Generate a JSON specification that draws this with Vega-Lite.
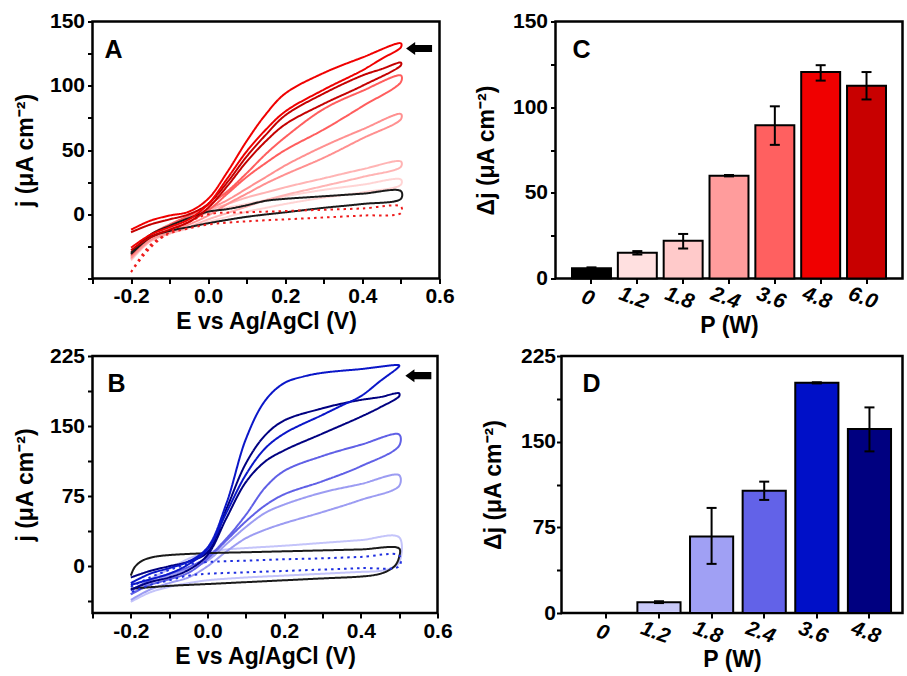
{
  "$schema": "https://vega.github.io/schema/vega-lite/v6.json",
  "padding": {"left": 12.5, "top": 8.5, "right": 0, "bottom": 0},
  "background": "white",
  "config": {
    "font": "Liberation Sans",
    "view": {"stroke": "black", "strokeWidth": 2.5},
    "axis": {
      "domain": false, "grid": false, "ticks": true, "tickColor": "black", "tickWidth": 2, "tickSize": 5,
      "labelFont": "Liberation Sans", "labelFontSize": 21, "labelFontWeight": "bold", "labelColor": "black",
      "labelFlush": false, "labelOverlap": false, "labelPadding": 2,
      "titleFont": "Liberation Sans", "titleFontSize": 23, "titleFontWeight": "bold", "titleColor": "black"
    },
    "title": {"font": "Liberation Sans", "fontSize": 25, "fontWeight": "bold", "color": "black", "anchor": "start", "frame": "group", "offset": -52, "baseline": "alphabetic"}
  },
  "datasets": {
    "cvA": [
      {"s":"1.2","o":0,"E":-0.2,"j":-35},{"s":"1.2","o":1,"E":-0.15,"j":-20},{"s":"1.2","o":2,"E":-0.1,"j":-11},{"s":"1.2","o":3,"E":-0.05,"j":-4},{"s":"1.2","o":4,"E":0,"j":1},{"s":"1.2","o":5,"E":0.05,"j":5},{"s":"1.2","o":6,"E":0.1,"j":8},{"s":"1.2","o":7,"E":0.15,"j":11},{"s":"1.2","o":8,"E":0.2,"j":14},{"s":"1.2","o":9,"E":0.3,"j":19},{"s":"1.2","o":10,"E":0.4,"j":23},{"s":"1.2","o":11,"E":0.5,"j":27},
      {"s":"1.2","o":12,"E":0.5,"j":23},{"s":"1.2","o":13,"E":0.4,"j":17},{"s":"1.2","o":14,"E":0.3,"j":13},{"s":"1.2","o":15,"E":0.2,"j":8},{"s":"1.2","o":16,"E":0.15,"j":5},{"s":"1.2","o":17,"E":0.1,"j":2},{"s":"1.2","o":18,"E":0.05,"j":-2},{"s":"1.2","o":19,"E":0,"j":-6},{"s":"1.2","o":20,"E":-0.05,"j":-11},{"s":"1.2","o":21,"E":-0.1,"j":-15},{"s":"1.2","o":22,"E":-0.15,"j":-21},{"s":"1.2","o":23,"E":-0.2,"j":-36},
      {"s":"1.8","o":0,"E":-0.2,"j":-33},{"s":"1.8","o":1,"E":-0.15,"j":-19},{"s":"1.8","o":2,"E":-0.1,"j":-10},{"s":"1.8","o":3,"E":-0.05,"j":-3},{"s":"1.8","o":4,"E":0,"j":3},{"s":"1.8","o":5,"E":0.05,"j":8},{"s":"1.8","o":6,"E":0.1,"j":13},{"s":"1.8","o":7,"E":0.15,"j":17},{"s":"1.8","o":8,"E":0.2,"j":21},{"s":"1.8","o":9,"E":0.3,"j":28},{"s":"1.8","o":10,"E":0.4,"j":35},{"s":"1.8","o":11,"E":0.5,"j":41},
      {"s":"1.8","o":12,"E":0.5,"j":37},{"s":"1.8","o":13,"E":0.4,"j":29},{"s":"1.8","o":14,"E":0.3,"j":22},{"s":"1.8","o":15,"E":0.2,"j":15},{"s":"1.8","o":16,"E":0.15,"j":11},{"s":"1.8","o":17,"E":0.1,"j":6},{"s":"1.8","o":18,"E":0.05,"j":1},{"s":"1.8","o":19,"E":0,"j":-4},{"s":"1.8","o":20,"E":-0.05,"j":-10},{"s":"1.8","o":21,"E":-0.1,"j":-15},{"s":"1.8","o":22,"E":-0.15,"j":-21},{"s":"1.8","o":23,"E":-0.2,"j":-35},
      {"s":"2.4","o":0,"E":-0.2,"j":-33},{"s":"2.4","o":1,"E":-0.15,"j":-18},{"s":"2.4","o":2,"E":-0.1,"j":-9},{"s":"2.4","o":3,"E":-0.05,"j":-2},{"s":"2.4","o":4,"E":0,"j":4},{"s":"2.4","o":5,"E":0.05,"j":11},{"s":"2.4","o":6,"E":0.1,"j":20},{"s":"2.4","o":7,"E":0.15,"j":29},{"s":"2.4","o":8,"E":0.2,"j":38},{"s":"2.4","o":9,"E":0.3,"j":53},{"s":"2.4","o":10,"E":0.4,"j":66},{"s":"2.4","o":11,"E":0.5,"j":78},
      {"s":"2.4","o":12,"E":0.5,"j":74},{"s":"2.4","o":13,"E":0.4,"j":59},{"s":"2.4","o":14,"E":0.3,"j":44},{"s":"2.4","o":15,"E":0.2,"j":31},{"s":"2.4","o":16,"E":0.15,"j":24},{"s":"2.4","o":17,"E":0.1,"j":16},{"s":"2.4","o":18,"E":0.05,"j":8},{"s":"2.4","o":19,"E":0,"j":-1},{"s":"2.4","o":20,"E":-0.05,"j":-8},{"s":"2.4","o":21,"E":-0.1,"j":-14},{"s":"2.4","o":22,"E":-0.15,"j":-20},{"s":"2.4","o":23,"E":-0.2,"j":-34},
      {"s":"3.6","o":0,"E":-0.2,"j":-30},{"s":"3.6","o":1,"E":-0.15,"j":-16},{"s":"3.6","o":2,"E":-0.1,"j":-8},{"s":"3.6","o":3,"E":-0.05,"j":-1},{"s":"3.6","o":4,"E":0,"j":7},{"s":"3.6","o":5,"E":0.05,"j":18},{"s":"3.6","o":6,"E":0.1,"j":32},{"s":"3.6","o":7,"E":0.15,"j":47},{"s":"3.6","o":8,"E":0.2,"j":60},{"s":"3.6","o":9,"E":0.3,"j":82},{"s":"3.6","o":10,"E":0.4,"j":96},{"s":"3.6","o":11,"E":0.5,"j":108},
      {"s":"3.6","o":12,"E":0.5,"j":103},{"s":"3.6","o":13,"E":0.4,"j":84},{"s":"3.6","o":14,"E":0.3,"j":66},{"s":"3.6","o":15,"E":0.2,"j":50},{"s":"3.6","o":16,"E":0.15,"j":40},{"s":"3.6","o":17,"E":0.1,"j":29},{"s":"3.6","o":18,"E":0.05,"j":16},{"s":"3.6","o":19,"E":0,"j":3},{"s":"3.6","o":20,"E":-0.05,"j":-6},{"s":"3.6","o":21,"E":-0.1,"j":-12},{"s":"3.6","o":22,"E":-0.15,"j":-18},{"s":"3.6","o":23,"E":-0.2,"j":-32},
      {"s":"0","o":0,"E":-0.2,"j":-30},{"s":"0","o":1,"E":-0.15,"j":-16},{"s":"0","o":2,"E":-0.1,"j":-9},{"s":"0","o":3,"E":-0.05,"j":-3},{"s":"0","o":4,"E":0,"j":2},{"s":"0","o":5,"E":0.05,"j":4},{"s":"0","o":6,"E":0.1,"j":7},{"s":"0","o":7,"E":0.15,"j":10.5},{"s":"0","o":8,"E":0.2,"j":12},{"s":"0","o":9,"E":0.3,"j":14},{"s":"0","o":10,"E":0.4,"j":16},{"s":"0","o":11,"E":0.5,"j":18},
      {"s":"0","o":12,"E":0.5,"j":12},{"s":"0","o":13,"E":0.4,"j":8},{"s":"0","o":14,"E":0.3,"j":5},{"s":"0","o":15,"E":0.2,"j":1.5},{"s":"0","o":16,"E":0.1,"j":-2},{"s":"0","o":17,"E":0,"j":-7},{"s":"0","o":18,"E":-0.05,"j":-10},{"s":"0","o":19,"E":-0.1,"j":-13},{"s":"0","o":20,"E":-0.15,"j":-18},{"s":"0","o":21,"E":-0.2,"j":-31},
      {"s":"dark","o":0,"E":-0.2,"j":-45},{"s":"dark","o":1,"E":-0.15,"j":-26},{"s":"dark","o":2,"E":-0.1,"j":-14},{"s":"dark","o":3,"E":-0.05,"j":-6},{"s":"dark","o":4,"E":0,"j":0},{"s":"dark","o":5,"E":0.1,"j":1.5},{"s":"dark","o":6,"E":0.2,"j":2.5},{"s":"dark","o":7,"E":0.3,"j":3.5},{"s":"dark","o":8,"E":0.4,"j":4.5},{"s":"dark","o":9,"E":0.5,"j":6},
      {"s":"dark","o":10,"E":0.5,"j":1},{"s":"dark","o":11,"E":0.4,"j":-1},{"s":"dark","o":12,"E":0.3,"j":-2.5},{"s":"dark","o":13,"E":0.2,"j":-4},{"s":"dark","o":14,"E":0.1,"j":-5.5},{"s":"dark","o":15,"E":0,"j":-8},{"s":"dark","o":16,"E":-0.05,"j":-11},{"s":"dark","o":17,"E":-0.1,"j":-15},{"s":"dark","o":18,"E":-0.15,"j":-24},{"s":"dark","o":19,"E":-0.2,"j":-45},
      {"s":"6.0","o":0,"E":-0.2,"j":-14},{"s":"6.0","o":1,"E":-0.15,"j":-8},{"s":"6.0","o":2,"E":-0.1,"j":-4},{"s":"6.0","o":3,"E":-0.05,"j":0},{"s":"6.0","o":4,"E":0,"j":8},{"s":"6.0","o":5,"E":0.05,"j":25},{"s":"6.0","o":6,"E":0.1,"j":45},{"s":"6.0","o":7,"E":0.15,"j":62},{"s":"6.0","o":8,"E":0.2,"j":77},{"s":"6.0","o":9,"E":0.3,"j":94},{"s":"6.0","o":10,"E":0.4,"j":108},{"s":"6.0","o":11,"E":0.45,"j":113},{"s":"6.0","o":12,"E":0.5,"j":118},
      {"s":"6.0","o":13,"E":0.5,"j":116},{"s":"6.0","o":14,"E":0.4,"j":100},{"s":"6.0","o":15,"E":0.3,"j":86},{"s":"6.0","o":16,"E":0.2,"j":70},{"s":"6.0","o":17,"E":0.15,"j":57},{"s":"6.0","o":18,"E":0.1,"j":41},{"s":"6.0","o":19,"E":0.05,"j":22},{"s":"6.0","o":20,"E":0,"j":5},{"s":"6.0","o":21,"E":-0.05,"j":-6},{"s":"6.0","o":22,"E":-0.1,"j":-12},{"s":"6.0","o":23,"E":-0.15,"j":-18},{"s":"6.0","o":24,"E":-0.2,"j":-28},
      {"s":"4.8","o":0,"E":-0.2,"j":-12},{"s":"4.8","o":1,"E":-0.15,"j":-5},{"s":"4.8","o":2,"E":-0.1,"j":-1},{"s":"4.8","o":3,"E":-0.05,"j":2},{"s":"4.8","o":4,"E":0,"j":12},{"s":"4.8","o":5,"E":0.05,"j":33},{"s":"4.8","o":6,"E":0.1,"j":57},{"s":"4.8","o":7,"E":0.15,"j":78},{"s":"4.8","o":8,"E":0.2,"j":94},{"s":"4.8","o":9,"E":0.3,"j":110},{"s":"4.8","o":10,"E":0.4,"j":122},{"s":"4.8","o":11,"E":0.5,"j":133},
      {"s":"4.8","o":12,"E":0.5,"j":130},{"s":"4.8","o":13,"E":0.45,"j":121},{"s":"4.8","o":14,"E":0.4,"j":112},{"s":"4.8","o":15,"E":0.3,"j":97},{"s":"4.8","o":16,"E":0.2,"j":80},{"s":"4.8","o":17,"E":0.15,"j":66},{"s":"4.8","o":18,"E":0.1,"j":49},{"s":"4.8","o":19,"E":0.05,"j":28},{"s":"4.8","o":20,"E":0,"j":8},{"s":"4.8","o":21,"E":-0.05,"j":-4},{"s":"4.8","o":22,"E":-0.1,"j":-10},{"s":"4.8","o":23,"E":-0.15,"j":-16},{"s":"4.8","o":24,"E":-0.2,"j":-26}
    ],
    "cvB": [
      {"s":"1.2","o":0,"E":-0.2,"j":-30},{"s":"1.2","o":1,"E":-0.15,"j":-14},{"s":"1.2","o":2,"E":-0.1,"j":-3},{"s":"1.2","o":3,"E":-0.05,"j":8},{"s":"1.2","o":4,"E":0,"j":15},{"s":"1.2","o":5,"E":0.05,"j":18},{"s":"1.2","o":6,"E":0.1,"j":19.5},{"s":"1.2","o":7,"E":0.2,"j":22},{"s":"1.2","o":8,"E":0.3,"j":25},{"s":"1.2","o":9,"E":0.4,"j":28},{"s":"1.2","o":10,"E":0.5,"j":31},
      {"s":"1.2","o":11,"E":0.5,"j":4},{"s":"1.2","o":12,"E":0.48,"j":-2},{"s":"1.2","o":13,"E":0.45,"j":-5},{"s":"1.2","o":14,"E":0.4,"j":-6},{"s":"1.2","o":15,"E":0.3,"j":-8},{"s":"1.2","o":16,"E":0.2,"j":-10},{"s":"1.2","o":17,"E":0.1,"j":-12},{"s":"1.2","o":18,"E":0,"j":-15},{"s":"1.2","o":19,"E":-0.05,"j":-18},{"s":"1.2","o":20,"E":-0.1,"j":-22},{"s":"1.2","o":21,"E":-0.15,"j":-28},{"s":"1.2","o":22,"E":-0.2,"j":-38},
      {"s":"1.8","o":0,"E":-0.2,"j":-30},{"s":"1.8","o":1,"E":-0.15,"j":-18},{"s":"1.8","o":2,"E":-0.1,"j":-10},{"s":"1.8","o":3,"E":-0.05,"j":-3},{"s":"1.8","o":4,"E":0,"j":6},{"s":"1.8","o":5,"E":0.05,"j":24},{"s":"1.8","o":6,"E":0.1,"j":42},{"s":"1.8","o":7,"E":0.15,"j":57},{"s":"1.8","o":8,"E":0.2,"j":66},{"s":"1.8","o":9,"E":0.3,"j":79},{"s":"1.8","o":10,"E":0.4,"j":88},{"s":"1.8","o":11,"E":0.5,"j":97.5},
      {"s":"1.8","o":12,"E":0.5,"j":86},{"s":"1.8","o":13,"E":0.4,"j":71},{"s":"1.8","o":14,"E":0.3,"j":58},{"s":"1.8","o":15,"E":0.2,"j":46},{"s":"1.8","o":16,"E":0.15,"j":39},{"s":"1.8","o":17,"E":0.1,"j":30},{"s":"1.8","o":18,"E":0.05,"j":16},{"s":"1.8","o":19,"E":0,"j":0},{"s":"1.8","o":20,"E":-0.05,"j":-12},{"s":"1.8","o":21,"E":-0.1,"j":-18},{"s":"1.8","o":22,"E":-0.15,"j":-25},{"s":"1.8","o":23,"E":-0.2,"j":-36},
      {"s":"2.4","o":0,"E":-0.2,"j":-26},{"s":"2.4","o":1,"E":-0.15,"j":-15},{"s":"2.4","o":2,"E":-0.1,"j":-8},{"s":"2.4","o":3,"E":-0.05,"j":-1},{"s":"2.4","o":4,"E":0,"j":10},{"s":"2.4","o":5,"E":0.05,"j":30},{"s":"2.4","o":6,"E":0.1,"j":55},{"s":"2.4","o":7,"E":0.15,"j":84},{"s":"2.4","o":8,"E":0.2,"j":102},{"s":"2.4","o":9,"E":0.3,"j":118},{"s":"2.4","o":10,"E":0.4,"j":130},{"s":"2.4","o":11,"E":0.5,"j":141},
      {"s":"2.4","o":12,"E":0.5,"j":129},{"s":"2.4","o":13,"E":0.4,"j":107},{"s":"2.4","o":14,"E":0.3,"j":91},{"s":"2.4","o":15,"E":0.2,"j":77},{"s":"2.4","o":16,"E":0.15,"j":65},{"s":"2.4","o":17,"E":0.1,"j":48},{"s":"2.4","o":18,"E":0.05,"j":28},{"s":"2.4","o":19,"E":0,"j":8},{"s":"2.4","o":20,"E":-0.05,"j":-7},{"s":"2.4","o":21,"E":-0.1,"j":-14},{"s":"2.4","o":22,"E":-0.15,"j":-20},{"s":"2.4","o":23,"E":-0.2,"j":-30},
      {"s":"0","o":0,"E":-0.2,"j":-10},{"s":"0","o":1,"E":-0.19,"j":-1},{"s":"0","o":2,"E":-0.17,"j":6},{"s":"0","o":3,"E":-0.14,"j":10},{"s":"0","o":4,"E":-0.1,"j":12},{"s":"0","o":5,"E":0,"j":14},{"s":"0","o":6,"E":0.1,"j":15},{"s":"0","o":7,"E":0.2,"j":16},{"s":"0","o":8,"E":0.3,"j":17},{"s":"0","o":9,"E":0.4,"j":18},{"s":"0","o":10,"E":0.5,"j":19},
      {"s":"0","o":11,"E":0.5,"j":10},{"s":"0","o":12,"E":0.49,"j":1},{"s":"0","o":13,"E":0.47,"j":-5},{"s":"0","o":14,"E":0.44,"j":-9},{"s":"0","o":15,"E":0.4,"j":-11},{"s":"0","o":16,"E":0.3,"j":-13},{"s":"0","o":17,"E":0.2,"j":-15},{"s":"0","o":18,"E":0.1,"j":-17},{"s":"0","o":19,"E":0,"j":-19},{"s":"0","o":20,"E":-0.1,"j":-21},{"s":"0","o":21,"E":-0.2,"j":-24},
      {"s":"dark","o":0,"E":-0.2,"j":-22},{"s":"dark","o":1,"E":-0.15,"j":-12},{"s":"dark","o":2,"E":-0.1,"j":-4},{"s":"dark","o":3,"E":-0.05,"j":2},{"s":"dark","o":4,"E":0,"j":4.5},{"s":"dark","o":5,"E":0.1,"j":6},{"s":"dark","o":6,"E":0.2,"j":7.5},{"s":"dark","o":7,"E":0.3,"j":8.5},{"s":"dark","o":8,"E":0.4,"j":10},{"s":"dark","o":9,"E":0.5,"j":11.5},
      {"s":"dark","o":10,"E":0.5,"j":0},{"s":"dark","o":11,"E":0.4,"j":-2},{"s":"dark","o":12,"E":0.3,"j":-3.5},{"s":"dark","o":13,"E":0.2,"j":-5},{"s":"dark","o":14,"E":0.1,"j":-6.5},{"s":"dark","o":15,"E":0,"j":-8},{"s":"dark","o":16,"E":-0.05,"j":-10},{"s":"dark","o":17,"E":-0.1,"j":-15},{"s":"dark","o":18,"E":-0.15,"j":-20},{"s":"dark","o":19,"E":-0.2,"j":-28},
      {"s":"4.8","o":0,"E":-0.2,"j":-12},{"s":"4.8","o":1,"E":-0.15,"j":-5},{"s":"4.8","o":2,"E":-0.1,"j":0},{"s":"4.8","o":3,"E":-0.05,"j":5},{"s":"4.8","o":4,"E":0,"j":15},{"s":"4.8","o":5,"E":0.05,"j":62},{"s":"4.8","o":6,"E":0.1,"j":110},{"s":"4.8","o":7,"E":0.15,"j":140},{"s":"4.8","o":8,"E":0.2,"j":156},{"s":"4.8","o":9,"E":0.3,"j":169},{"s":"4.8","o":10,"E":0.35,"j":174},{"s":"4.8","o":11,"E":0.4,"j":178},{"s":"4.8","o":12,"E":0.45,"j":181},{"s":"4.8","o":13,"E":0.5,"j":185},
      {"s":"4.8","o":14,"E":0.5,"j":182},{"s":"4.8","o":15,"E":0.45,"j":170},{"s":"4.8","o":16,"E":0.4,"j":160},{"s":"4.8","o":17,"E":0.3,"j":142},{"s":"4.8","o":18,"E":0.2,"j":124},{"s":"4.8","o":19,"E":0.15,"j":112},{"s":"4.8","o":20,"E":0.1,"j":90},{"s":"4.8","o":21,"E":0.05,"j":52},{"s":"4.8","o":22,"E":0,"j":12},{"s":"4.8","o":23,"E":-0.05,"j":-4},{"s":"4.8","o":24,"E":-0.1,"j":-12},{"s":"4.8","o":25,"E":-0.15,"j":-17},{"s":"4.8","o":26,"E":-0.2,"j":-25},
      {"s":"3.6","o":0,"E":-0.2,"j":-18},{"s":"3.6","o":1,"E":-0.15,"j":-8},{"s":"3.6","o":2,"E":-0.1,"j":-2},{"s":"3.6","o":3,"E":-0.05,"j":5},{"s":"3.6","o":4,"E":0,"j":20},{"s":"3.6","o":5,"E":0.05,"j":68},{"s":"3.6","o":6,"E":0.1,"j":136},{"s":"3.6","o":7,"E":0.15,"j":177},{"s":"3.6","o":8,"E":0.2,"j":196},{"s":"3.6","o":9,"E":0.25,"j":203},{"s":"3.6","o":10,"E":0.3,"j":207},{"s":"3.6","o":11,"E":0.4,"j":211},{"s":"3.6","o":12,"E":0.5,"j":215},
      {"s":"3.6","o":13,"E":0.5,"j":214},{"s":"3.6","o":14,"E":0.45,"j":198},{"s":"3.6","o":15,"E":0.4,"j":182},{"s":"3.6","o":16,"E":0.35,"j":172},{"s":"3.6","o":17,"E":0.3,"j":162},{"s":"3.6","o":18,"E":0.2,"j":142},{"s":"3.6","o":19,"E":0.15,"j":126},{"s":"3.6","o":20,"E":0.1,"j":98},{"s":"3.6","o":21,"E":0.05,"j":58},{"s":"3.6","o":22,"E":0,"j":18},{"s":"3.6","o":23,"E":-0.05,"j":2},{"s":"3.6","o":24,"E":-0.1,"j":-8},{"s":"3.6","o":25,"E":-0.15,"j":-14},{"s":"3.6","o":26,"E":-0.2,"j":-20}
    ],
    "arrA": [{"E": 0.547, "j": 129}],
    "arrB": [{"E": 0.55, "j": 204}],
    "barC": [
      {"P":"0","v":6,"lo":5.5,"hi":6.5},{"P":"1.2","v":15,"lo":14,"hi":16},{"P":"1.8","v":22,"lo":17.5,"hi":26},{"P":"2.4","v":60,"lo":59.6,"hi":60.4},{"P":"3.6","v":89.5,"lo":78,"hi":100.5},{"P":"4.8","v":120.5,"lo":115.5,"hi":124.5},{"P":"6.0","v":112.5,"lo":104.5,"hi":120.5}
    ],
    "barD": [
      {"P":"0","v":0},{"P":"1.2","v":9.5,"lo":8.7,"hi":10.3},{"P":"1.8","v":67,"lo":43,"hi":92},{"P":"2.4","v":107,"lo":99,"hi":115},{"P":"3.6","v":201.5,"lo":201,"hi":202},{"P":"4.8","v":161,"lo":141.5,"hi":180}
    ]
  },
  "spacing": 4.5,
  "bounds": "full",
  "resolve": {"scale": {"color": "independent", "strokeDash": "independent", "fill": "independent"}},
  "vconcat": [
    {
      "spacing": 116,
      "bounds": "flush",
      "resolve": {"scale": {"color": "independent", "strokeDash": "independent", "fill": "independent"}},
      "hconcat": [
        {
          "width": 347, "height": 257,
          "title": {"text": "A", "dx": 12},
          "layer": [
            {
              "data": {"name": "cvA"},
              "mark": {"type": "line", "strokeWidth": 2, "interpolate": "catmull-rom"},
              "encoding": {
                "x": {"field": "E", "type": "quantitative", "scale": {"domain": [-0.3, 0.6], "nice": false, "zero": false},
                  "axis": {"title": "E vs Ag/AgCl (V)", "values": [-0.3,-0.2,-0.1,0,0.1,0.2,0.3,0.4,0.5,0.6], "tickCount": 40, "labelExpr": "abs(round(datum.value*10)) % 2 == 0 ? replace(format(datum.value, '.1f'), '\u2212', '-') : ''", "labelOverlap": false, "titlePadding": 4}},
                "y": {"field": "j", "type": "quantitative", "scale": {"domain": [-50, 150], "nice": false, "zero": false},
                  "axis": {"title": "j (\u03bcA cm\u207b\u00b2)", "values": [-50,-25,0,25,50,75,100,125,150], "tickCount": 40, "labelExpr": "datum.value >= 0 && datum.value % 50 == 0 ? datum.label : ''", "labelOverlap": false, "labelPadding": 3, "titleX": -55}},
                "color": {"field": "s", "type": "nominal", "legend": null,
                  "scale": {"domain": ["0","dark","1.2","1.8","2.4","3.6","4.8","6.0"], "range": ["#1a1a1a","#ee1c1c","#ffd4d4","#ffb4b4","#ff9090","#ff5e5e","#f00000","#c40000"]}},
                "strokeDash": {"field": "s", "type": "nominal", "legend": null,
                  "scale": {"domain": ["0","dark","1.2","1.8","2.4","3.6","4.8","6.0"], "range": [[1,0],[2.5,4],[1,0],[1,0],[1,0],[1,0],[1,0],[1,0]]}},
                "order": {"field": "o", "type": "quantitative"}
              }
            },
            {
              "data": {"name": "arrA"},
              "mark": {"type": "point", "shape": "M-1,0L-0.3,-0.5L-0.3,-0.27L1,-0.27L1,0.27L-0.3,0.27L-0.3,0.5Z", "filled": true, "color": "black", "opacity": 1, "size": 676},
              "encoding": {
                "x": {"field": "E", "type": "quantitative"},
                "y": {"field": "j", "type": "quantitative"}
              }
            }
          ]
        },
        {
          "width": 347, "height": 257,
          "title": {"text": "C", "dx": 17},
          "data": {"name": "barC"},
          "encoding": {
            "x": {"field": "P", "type": "nominal", "sort": null, "scale": {"paddingInner": 0.15, "paddingOuter": 0.36},
              "axis": {"title": "P (W)", "labelAngle": 20, "labelAlign": "center", "labelBaseline": "top", "labelFontStyle": "italic", "labelPadding": 4, "titlePadding": 2}}
          },
          "layer": [
            {
              "mark": {"type": "bar", "stroke": "black", "strokeWidth": 2},
              "encoding": {
                "y": {"field": "v", "type": "quantitative", "title": "\u0394j (\u03bcA cm\u207b\u00b2)", "scale": {"domain": [0, 150], "nice": false},
                  "axis": {"values": [0,25,50,75,100,125,150], "tickCount": 40, "labelExpr": "datum.value % 50 == 0 ? datum.label : ''", "labelOverlap": false, "labelPadding": 3, "titleX": -57}},
                "fill": {"field": "P", "type": "nominal", "sort": null, "legend": null,
                  "scale": {"domain": ["0","1.2","1.8","2.4","3.6","4.8","6.0"], "range": ["#000000","#ffe0e0","#ffcaca","#ff9c9c","#ff6060","#f00000","#c80000"]}}
              }
            },
            {
              "mark": {"type": "rule", "strokeWidth": 2, "color": "black"},
              "encoding": {"y": {"field": "lo", "type": "quantitative", "title": "\u0394j (\u03bcA cm\u207b\u00b2)"}, "y2": {"field": "hi"}}
            },
            {
              "mark": {"type": "tick", "thickness": 2, "size": 10, "color": "black", "opacity": 1},
              "encoding": {"y": {"field": "lo", "type": "quantitative", "title": "\u0394j (\u03bcA cm\u207b\u00b2)"}}
            },
            {
              "mark": {"type": "tick", "thickness": 2, "size": 10, "color": "black", "opacity": 1},
              "encoding": {"y": {"field": "hi", "type": "quantitative", "title": "\u0394j (\u03bcA cm\u207b\u00b2)"}}
            }
          ]
        }
      ]
    },
    {
      "spacing": 124,
      "bounds": "flush",
      "resolve": {"scale": {"color": "independent", "strokeDash": "independent", "fill": "independent"}},
      "hconcat": [
        {
          "width": 345, "height": 257,
          "title": {"text": "B", "dx": 15},
          "layer": [
            {
              "data": {"name": "cvB"},
              "mark": {"type": "line", "strokeWidth": 2, "interpolate": "catmull-rom"},
              "encoding": {
                "x": {"field": "E", "type": "quantitative", "scale": {"domain": [-0.3, 0.6], "nice": false, "zero": false},
                  "axis": {"title": "E vs Ag/AgCl (V)", "values": [-0.3,-0.2,-0.1,0,0.1,0.2,0.3,0.4,0.5,0.6], "tickCount": 40, "labelExpr": "abs(round(datum.value*10)) % 2 == 0 ? replace(format(datum.value, '.1f'), '\u2212', '-') : ''", "labelOverlap": false, "titlePadding": 4}},
                "y": {"field": "j", "type": "quantitative", "scale": {"domain": [-50, 225], "nice": false, "zero": false},
                  "axis": {"title": "j (\u03bcA cm\u207b\u00b2)", "values": [-37.5,0,37.5,75,112.5,150,187.5,225], "tickCount": 40, "labelExpr": "datum.value >= 0 && datum.value % 75 == 0 ? datum.label : ''", "labelOverlap": false, "labelPadding": 3, "titleX": -55}},
                "color": {"field": "s", "type": "nominal", "legend": null,
                  "scale": {"domain": ["0","dark","1.2","1.8","2.4","3.6","4.8"], "range": ["#1a1a1a","#1f2fe0","#c4c4fa","#9c9cf2","#6060e6","#0a16c8","#000080"]}},
                "strokeDash": {"field": "s", "type": "nominal", "legend": null,
                  "scale": {"domain": ["0","dark","1.2","1.8","2.4","3.6","4.8"], "range": [[1,0],[2.5,4],[1,0],[1,0],[1,0],[1,0],[1,0]]}},
                "order": {"field": "o", "type": "quantitative"}
              }
            },
            {
              "data": {"name": "arrB"},
              "mark": {"type": "point", "shape": "M-1,0L-0.3,-0.5L-0.3,-0.27L1,-0.27L1,0.27L-0.3,0.27L-0.3,0.5Z", "filled": true, "color": "black", "opacity": 1, "size": 676},
              "encoding": {
                "x": {"field": "E", "type": "quantitative"},
                "y": {"field": "j", "type": "quantitative"}
              }
            }
          ]
        },
        {
          "width": 341, "height": 257,
          "title": {"text": "D", "dx": 21},
          "data": {"name": "barD"},
          "encoding": {
            "x": {"field": "P", "type": "nominal", "sort": null, "scale": {"paddingInner": 0.18, "paddingOuter": 0.33, "align": 0.67},
              "axis": {"title": "P (W)", "labelAngle": 20, "labelAlign": "center", "labelBaseline": "top", "labelFontStyle": "italic", "labelPadding": 4, "titlePadding": 2}}
          },
          "layer": [
            {
              "mark": {"type": "bar", "stroke": "black", "strokeWidth": 2},
              "encoding": {
                "y": {"field": "v", "type": "quantitative", "title": "\u0394j (\u03bcA cm\u207b\u00b2)", "scale": {"domain": [0, 225], "nice": false},
                  "axis": {"values": [0,37.5,75,112.5,150,187.5,225], "tickCount": 40, "labelExpr": "datum.value % 75 == 0 ? datum.label : ''", "labelOverlap": false, "labelPadding": 1, "titleX": -56}},
                "fill": {"field": "P", "type": "nominal", "sort": null, "legend": null,
                  "scale": {"domain": ["0","1.2","1.8","2.4","3.6","4.8"], "range": ["#ffffff","#c8c8f8","#a0a0f4","#6262e8","#0010c8","#000080"]}}
              }
            },
            {
              "mark": {"type": "rule", "strokeWidth": 2, "color": "black"},
              "encoding": {"y": {"field": "lo", "type": "quantitative", "title": "\u0394j (\u03bcA cm\u207b\u00b2)"}, "y2": {"field": "hi"}}
            },
            {
              "mark": {"type": "tick", "thickness": 2, "size": 10, "color": "black", "opacity": 1},
              "encoding": {"y": {"field": "lo", "type": "quantitative", "title": "\u0394j (\u03bcA cm\u207b\u00b2)"}}
            },
            {
              "mark": {"type": "tick", "thickness": 2, "size": 10, "color": "black", "opacity": 1},
              "encoding": {"y": {"field": "hi", "type": "quantitative", "title": "\u0394j (\u03bcA cm\u207b\u00b2)"}}
            }
          ]
        }
      ]
    }
  ]
}
